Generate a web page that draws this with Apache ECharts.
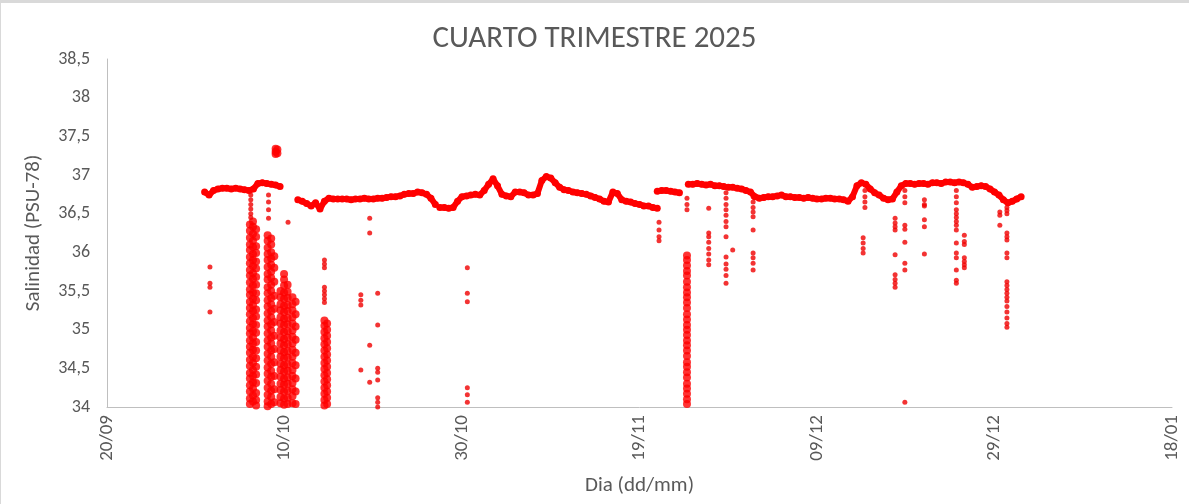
<!DOCTYPE html>
<html>
<head>
<meta charset="utf-8">
<script src="https://cdn.jsdelivr.net/npm/echarts@6/dist/echarts.min.js"></script>
<style>
html,body{margin:0;padding:0;background:#fff;}
#frame{position:absolute;left:0;top:0;width:1189px;height:504px;box-sizing:border-box;border-top:3px solid #d9d9d9;border-left:1px solid #d9d9d9;}
#chart{position:absolute;left:0;top:0;width:1189px;height:504px;}
</style>
</head>
<body>
<div id="frame"></div>
<div id="chart"></div>
<script>
// ---- DATA ----
const titleText = 'CUARTO TRIMESTRE 2025';
const xAxisName = 'Dia (dd/mm)';
const yAxisName = 'Salinidad (PSU-78)';
// x ticks every 20 days starting 20/09/2025 (x = days since 20/09)
const xTickLabels = ['20/09', '10/10', '30/10', '19/11', '09/12', '29/12', '18/01'];
const sampleStep = 0.5; // days between main-trace samples

// main trace segments: start day + values every sampleStep days
const traceStartDays = [11.0, 21.5, 37.5, 62.0, 65.5];
const traceA = [36.78, 36.74, 36.80, 36.82, 36.83, 36.83, 36.82, 36.83, 36.82, 36.81, 36.80, 36.82, 36.89, 36.90, 36.89, 36.88, 36.87, 36.85];
const traceB = [36.68, 36.66, 36.63, 36.60, 36.64, 36.56, 36.66, 36.70, 36.69, 36.69, 36.69, 36.69, 36.68, 36.69, 36.69, 36.70, 36.69, 36.69, 36.70, 36.70, 36.71, 36.72, 36.72, 36.73, 36.75, 36.76, 36.76, 36.78, 36.77, 36.75, 36.70, 36.62];
const traceC = [36.58, 36.58, 36.57, 36.58, 36.66, 36.72, 36.73, 36.74, 36.75, 36.74, 36.80, 36.88, 36.95, 36.86, 36.75, 36.73, 36.72, 36.78, 36.78, 36.77, 36.74, 36.74, 36.76, 36.93, 36.98, 36.96, 36.90, 36.84, 36.81, 36.80, 36.78, 36.77, 36.76, 36.75, 36.73, 36.71, 36.69, 36.66, 36.65, 36.78, 36.76, 36.68, 36.66, 36.65, 36.63, 36.62, 36.60, 36.60, 36.58, 36.57];
const traceD = [36.79, 36.80, 36.80, 36.79, 36.78, 36.77];
const traceE = [36.88, 36.88, 36.89, 36.88, 36.87, 36.88, 36.86, 36.86, 36.85, 36.84, 36.84, 36.83, 36.82, 36.80, 36.78, 36.72, 36.70, 36.71, 36.72, 36.72, 36.73, 36.74, 36.72, 36.72, 36.71, 36.71, 36.70, 36.71, 36.70, 36.69, 36.69, 36.70, 36.70, 36.69, 36.69, 36.68, 36.66, 36.72, 36.86, 36.90, 36.88, 36.82, 36.77, 36.74, 36.70, 36.68, 36.69, 36.78, 36.86, 36.89, 36.89, 36.88, 36.89, 36.89, 36.88, 36.90, 36.90, 36.89, 36.91, 36.91, 36.90, 36.91, 36.90, 36.88, 36.84, 36.85, 36.86, 36.85, 36.82, 36.78, 36.74, 36.68, 36.64, 36.66, 36.69, 36.72];

// dense low-salinity columns: [day, [values]]
const denseColumns = [
  [16.1, [36.36, 36.28, 36.19, 36.10, 36.03, 35.94, 35.86, 35.77, 35.70, 35.61, 35.52, 35.45, 35.36, 35.28, 35.20, 35.11, 35.02, 34.95, 34.86, 34.78, 34.70, 34.61, 34.53, 34.44, 34.37, 34.28, 34.20, 34.11, 34.04]],
  [16.45, [36.40, 36.33, 36.24, 36.15, 36.07, 35.98, 35.90, 35.82, 35.73, 35.66, 35.57, 35.48, 35.40, 35.32, 35.24, 35.15, 35.07, 34.98, 34.90, 34.82, 34.74, 34.65, 34.57, 34.48, 34.40, 34.32, 34.24, 34.15, 34.07]],
  [16.8, [36.30, 36.20, 36.08, 35.99, 35.88, 35.79, 35.68, 35.58, 35.47, 35.38, 35.26, 35.17, 35.06, 34.96, 34.84, 34.73, 34.63, 34.52, 34.42, 34.31, 34.18, 34.09, 34.02]],
  [18.1, [36.22, 36.15, 36.06, 35.98, 35.90, 35.81, 35.72, 35.65, 35.55, 35.47, 35.38, 35.30, 35.21, 35.12, 35.04, 34.95, 34.86, 34.78, 34.69, 34.60, 34.51, 34.43, 34.34, 34.25, 34.16, 34.07, 34.01]],
  [18.5, [36.18, 36.10, 36.00, 35.92, 35.84, 35.75, 35.67, 35.58, 35.50, 35.41, 35.33, 35.24, 35.16, 35.07, 34.99, 34.90, 34.82, 34.73, 34.65, 34.56, 34.47, 34.39, 34.30, 34.21, 34.13, 34.04]],
  [18.85, [35.95, 35.80, 35.62, 35.44, 35.27, 35.10, 34.92, 34.75, 34.58, 34.40, 34.23, 34.06]],
  [19.0, [37.34, 37.30, 37.27]],
  [19.2, [37.33, 37.28]],
  [19.55, [35.50, 35.42, 35.33, 35.25, 35.16, 35.08, 34.99, 34.90, 34.82, 34.73, 34.65, 34.56, 34.48, 34.39, 34.30, 34.22, 34.13, 34.05]],
  [19.95, [35.72, 35.65, 35.57, 35.48, 35.40, 35.31, 35.23, 35.14, 35.06, 34.97, 34.88, 34.80, 34.71, 34.63, 34.54, 34.46, 34.37, 34.29, 34.20, 34.11, 34.03]],
  [20.35, [35.58, 35.49, 35.41, 35.32, 35.24, 35.15, 35.07, 34.98, 34.90, 34.81, 34.72, 34.64, 34.55, 34.47, 34.38, 34.30, 34.21, 34.12, 34.04]],
  [20.9, [35.42, 35.33, 35.25, 35.16, 35.08, 34.99, 34.91, 34.82, 34.74, 34.65, 34.57, 34.48, 34.40, 34.31, 34.23, 34.14, 34.05]],
  [21.25, [35.36, 35.20, 35.04, 34.87, 34.70, 34.54, 34.37, 34.20, 34.04]],
  [24.5, [35.12, 35.05, 34.97, 34.89, 34.81, 34.73, 34.65, 34.57, 34.49, 34.41, 34.33, 34.25, 34.17, 34.09, 34.02]],
  [24.8, [35.08, 35.00, 34.92, 34.84, 34.76, 34.68, 34.60, 34.52, 34.44, 34.36, 34.28, 34.20, 34.12, 34.04]],
  [65.35, [35.96, 35.90, 35.83, 35.76, 35.70, 35.62, 35.55, 35.48, 35.42, 35.35, 35.28, 35.20, 35.13, 35.06, 35.00, 34.93, 34.86, 34.80, 34.73, 34.66, 34.58, 34.52, 34.45, 34.38, 34.30, 34.24, 34.17, 34.10, 34.04]]
];

// scattered low-salinity readings: [day, [values]]
const sparseDrops = [
  [11.6, [35.81, 35.60, 35.55, 35.23]],
  [16.2, [36.80, 36.74, 36.68, 36.62, 36.56, 36.50, 36.45]],
  [18.2, [36.74, 36.65, 36.55, 36.44]],
  [20.4, [36.39]],
  [24.5, [35.90, 35.85, 35.80, 35.55, 35.50, 35.45, 35.40, 35.35]],
  [28.6, [35.45, 35.38, 35.32, 34.48]],
  [29.6, [36.44, 36.25, 34.80, 34.32]],
  [30.5, [35.47, 35.06, 34.50, 34.45, 34.35, 34.12, 34.06, 34.00]],
  [40.6, [35.80, 35.47, 35.36, 34.25, 34.16, 34.06]],
  [62.2, [36.39, 36.29, 36.20, 36.15]],
  [65.35, [36.70, 36.62, 36.55]],
  [67.8, [36.57, 36.25, 36.20, 36.13, 36.05, 35.98, 35.90, 35.84]],
  [69.75, [36.77, 36.70, 36.62, 36.55, 36.48, 36.40, 36.33, 36.20, 35.94, 35.85, 35.78, 35.70, 35.60]],
  [70.5, [36.03]],
  [72.8, [36.72, 36.65, 36.58, 36.52, 36.46, 36.29, 35.99, 35.93, 35.86, 35.77]],
  [85.2, [36.19, 36.12, 36.05, 35.99]],
  [85.4, [36.80, 36.72, 36.65, 36.58]],
  [88.8, [36.44, 36.38, 36.33, 36.29, 35.97, 35.71, 35.65, 35.60, 35.55]],
  [89.9, [36.80, 36.72, 36.64, 36.35, 36.30, 36.13, 35.86, 35.77, 34.06]],
  [92.1, [36.68, 36.62, 36.60, 36.42, 36.33, 35.98]],
  [95.7, [36.80, 36.72, 36.64, 36.55, 36.50, 36.45, 36.40, 36.35, 36.29, 36.12, 35.99, 35.93, 35.77, 35.64, 35.60]],
  [96.6, [36.22, 36.14, 36.10, 35.93, 35.88, 35.84, 35.80]],
  [100.6, [36.52, 36.48, 36.35]],
  [101.4, [36.58, 36.54, 36.50, 36.25, 36.20, 36.16, 35.99, 35.93, 35.62, 35.57, 35.52, 35.47, 35.42, 35.37, 35.30, 35.23, 35.15, 35.08, 35.03]]
];

// ---- BUILD ----
const traces = [traceA, traceB, traceC, traceD, traceE];
const traceData = [];
traces.forEach((arr, i) => {
  if (i > 0) traceData.push(['-', '-']); // gap between recording segments
  arr.forEach((v, j) => traceData.push([traceStartDays[i] + j * sampleStep, v]));
});
const flatten = cols => {
  const out = [];
  cols.forEach(([d, vals]) => vals.forEach(v => out.push([d, v])));
  return out;
};
const denseData = flatten(denseColumns);
const sparseData = flatten(sparseDrops);

const red = '#ff0000';
const grey = '#595959';
const font = 'Carlito, Calibri, "Liberation Sans", "Open Sans", sans-serif';
const chart = echarts.init(document.getElementById('chart'), null, {renderer: 'canvas'});
chart.setOption({
  animation: false,
  backgroundColor: 'transparent',
  title: {
    text: titleText, left: 'center', top: 19,
    textStyle: {color: grey, fontSize: 31, fontWeight: 'normal', fontFamily: font}
  },
  grid: {left: 107, right: 17, top: 59, bottom: 97},
  xAxis: {
    type: 'value', min: 0, max: 120, interval: 20,
    name: xAxisName, nameLocation: 'middle', nameGap: 68,
    nameTextStyle: {color: grey, fontSize: 21, fontFamily: font},
    axisLine: {show: true, lineStyle: {color: '#bfbfbf', width: 1}},
    axisTick: {show: false},
    splitLine: {show: false},
    axisLabel: {
      rotate: 90, margin: 8, color: grey, fontSize: 19, fontFamily: font,
      formatter: v => xTickLabels[Math.round(v / 20)] || ''
    }
  },
  yAxis: {
    type: 'value', min: 34, max: 38.5, interval: 0.5,
    name: yAxisName, nameLocation: 'middle', nameGap: 63, nameRotate: 90,
    nameTextStyle: {color: grey, fontSize: 21, fontFamily: font},
    axisLine: {show: true, lineStyle: {color: '#bfbfbf', width: 1}},
    axisTick: {show: false},
    splitLine: {show: false},
    axisLabel: {
      color: grey, fontSize: 18, fontFamily: font, margin: 17,
      formatter: v => String(+v.toFixed(1)).replace('.', ',')
    }
  },
  series: [
    {
      type: 'line', data: traceData, symbol: 'circle', symbolSize: 7, showSymbol: true,
      connectNulls: false, lineStyle: {color: red, width: 6}, itemStyle: {color: red},
      emphasis: {disabled: true}
    },
    {
      type: 'scatter', data: denseData, symbol: 'circle', symbolSize: 8,
      itemStyle: {color: red}, emphasis: {disabled: true}
    },
    {
      type: 'scatter', data: sparseData, symbol: 'circle', symbolSize: 5,
      itemStyle: {color: '#f00000'}, emphasis: {disabled: true}
    }
  ]
});
</script>
</body>
</html>
